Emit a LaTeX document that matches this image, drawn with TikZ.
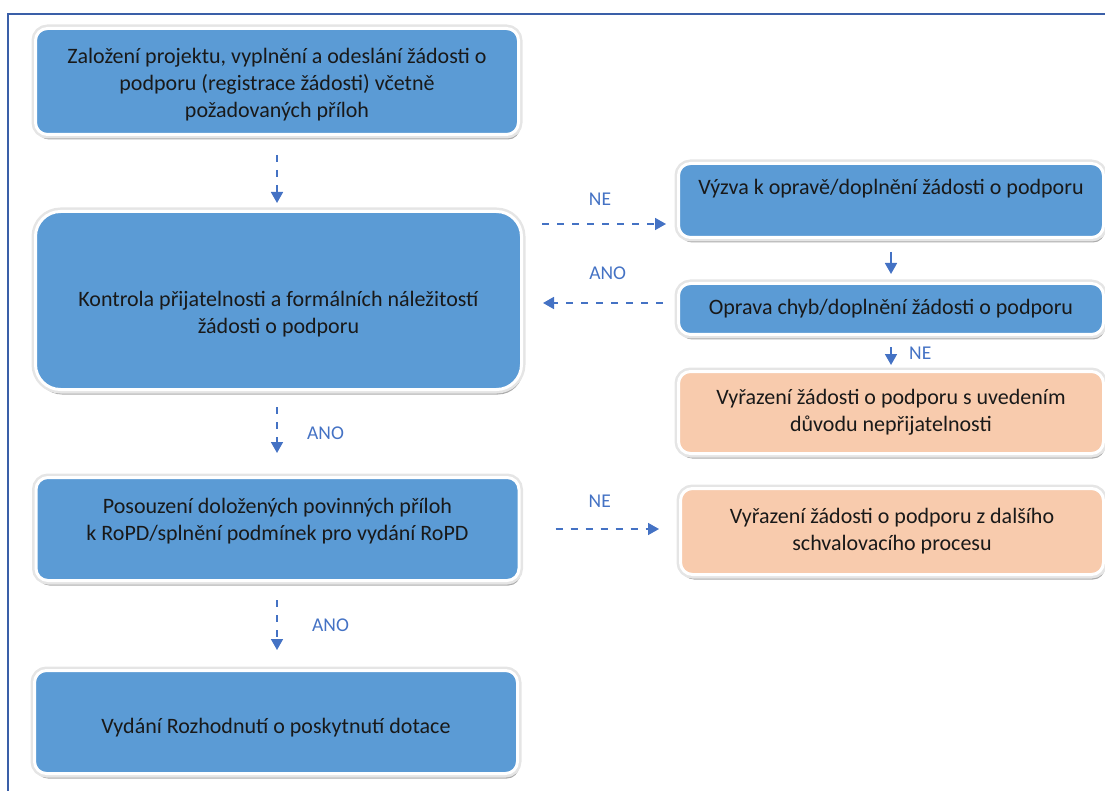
\documentclass[tikz,border=0pt]{standalone}
\usepackage{fontspec}
\setmainfont{Carlito}
\usetikzlibrary{arrows.meta, calc, positioning, shadows}
\definecolor{boxblue}{HTML}{5B9BD5}
\definecolor{boxorange}{HTML}{F8CBAD}
\definecolor{flowblue}{HTML}{4472C4}
\definecolor{framecol}{HTML}{3A5FA8}
\tikzset{> = { Triangle[length = 11pt, width = 12pt] }}
\tikzset{
	box/.style = {rounded corners = 12pt, draw = white, line width = 3pt, inner sep = 0pt, align = center,
		text = black!90, font = \fontsize{22}{27}\selectfont,
		drop shadow = {shadow xshift = 1.5pt, shadow yshift = -5pt, fill = black!65},
		preaction = {draw = black!10, line width = 8pt}},
	bluebox/.style = {box, fill = boxblue},
	orangebox/.style = {box, fill = boxorange},
	flow/.style = {->, flowblue, line width = 1.7pt, dash pattern = on 7pt off 8pt},
	solidflow/.style = {->, flowblue, line width = 1.7pt},
	answer/.style = {text = flowblue, font = \fontsize{19.5}{22}\selectfont}
}

\begin{document}
\begin{tikzpicture}[x = 1pt, y = -1pt]
		\useasboundingbox (0, 0) rectangle (1105, 791);
		\draw [framecol, line width = 1.2pt] (8, 791) -- (8, 14) -- (1105, 14);

		% left column
		\node [bluebox, minimum width = 483pt, minimum height = 106pt] (zalozeni) at (277, 81.5) {\rule{0pt}{22pt}Založení projektu, vyplnění a odeslání žádosti o\\podporu (registrace žádosti) včetně\\požadovaných příloh};
		\node [bluebox, rounded corners = 25pt, minimum width = 486pt, minimum height = 178pt] (kontrola) at (278.5, 300.5) {\rule{0pt}{42pt}Kontrola přijatelnosti a formálních náležitostí\\žádosti o podporu};
		\node [bluebox, minimum width = 483pt, minimum height = 103pt] (posouzeni) at (277.5, 529) {Posouzení doložených povinných příloh\\k RoPD/splnění podmínek pro vydání RoPD\rule[-19pt]{0pt}{0pt}};
		\node [bluebox, minimum width = 483pt, minimum height = 103pt] (vydani) at (276, 722) {\rule{0pt}{26pt}Vydání Rozhodnutí o poskytnutí dotace};

		% right column
		\node [bluebox, minimum width = 425pt, minimum height = 74pt] (vyzva) at (891, 200.5) {Výzva k opravě/doplnění žádosti o podporu\\\mbox{}};
		\node [bluebox, minimum width = 425pt, minimum height = 51pt] (oprava) at (891, 309) {Oprava chyb/doplnění žádosti o podporu};
		\node [orangebox, minimum width = 425pt, minimum height = 82pt] (vyrazeni) at (891, 412.5) {Vyřazení žádosti o podporu s uvedením\\důvodu nepřijatelnosti};
		\node [orangebox, minimum width = 423pt, minimum height = 86pt] (vyrazeni2) at (892, 531.5) {Vyřazení žádosti o podporu z dalšího\\schvalovacího procesu};

		\draw [flow, shorten < = 19pt, shorten > = 7pt] (zalozeni.south) -- (zalozeni.south |- kontrola.north);
		\draw [flow, shorten < = 16pt, shorten > = 23pt] (kontrola.south -| zalozeni.south) -- node[answer, right = 26pt] (ano1) {ANO} (posouzeni.north -| zalozeni.south);
		\draw [flow, shorten < = 18pt, shorten > = 19pt] (posouzeni.south -| zalozeni.south) -- node[answer, right = 31pt] (ano2) {ANO} (vydani.north -| zalozeni.south);

		\draw [flow, shorten < = 19pt, shorten > = 11pt] ($(kontrola.east |- vyzva.south) + (0, -15)$) -- node[answer, above = 14pt] (ne1) {NE} ($(vyzva.south west) + (0, -15)$);
		\draw [flow, shorten < = 14pt, shorten > = 20pt] ($(oprava.west) + (0, -6)$) -- node[answer, above = 19pt, pos = 0.45] (ano3) {ANO} ($(kontrola.east |- oprava.west) + (0, -6)$);
		\draw [solidflow, shorten < = 13pt, shorten > = 8pt] (vyzva.south) -- (oprava.north);
		\draw [solidflow, shorten < = 11pt, shorten > = 5pt] (oprava.south) -- node[answer, right = 14pt] (ne2) {NE} (vyrazeni.north);
		\draw [flow, shorten < = 35pt, shorten > = 20pt] (posouzeni.east) -- node[answer, above = 17pt] (ne3) {NE} (posouzeni.east -| vyrazeni2.west);
	\end{tikzpicture}
\end{document}
